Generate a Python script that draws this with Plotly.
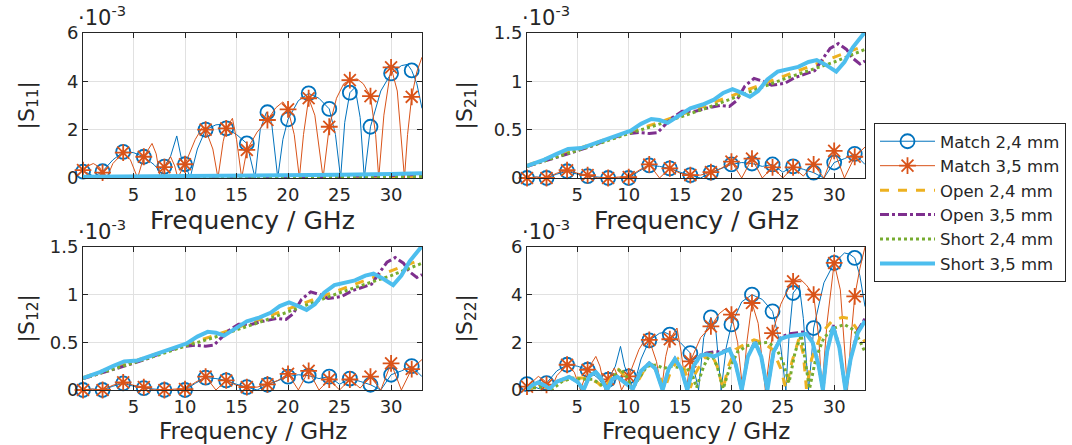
import plotly.graph_objects as go

W, H = 1072, 445
FONT = "DejaVu Sans"
TXT = "#262626"
C_BLUE, C_ORANGE, C_YELLOW = "#0072BD", "#D95319", "#EDB120"
C_PURPLE, C_GREEN, C_CYAN = "#7E2F8E", "#77AC30", "#4DBEEE"

series_names = ["Match 2,4 mm", "Match 3,5 mm", "Open 2,4 mm",
                "Open 3,5 mm", "Short 2,4 mm", "Short 3,5 mm"]
panel_labels = ["|S<sub>11</sub>|", "|S<sub>21</sub>|", "|S<sub>12</sub>|", "|S<sub>22</sub>|"]
x_ticks = [5, 10, 15, 20, 25, 30]
y_ticks_big = [0, 2, 4, 6]
y_ticks_small = [0, 0.5, 1, 1.5]

# marker positions of the "Match" curves (GHz)
marker_freq = [0.1, 2, 4, 6, 8, 10, 12, 14, 16, 18, 20, 22, 24, 26, 28, 30, 32]

# ---------------- S11 (values in 1e-3) ----------------
s11_m24_f = [0.1, 0.6, 1.2, 2.0, 3.0, 4.0, 5.0, 6.0, 7.0, 7.4, 8.0, 8.6, 9.2, 9.7, 10.0, 10.5, 11.2, 12.0,
             13.0, 13.6, 14.0, 15.0, 16.0, 16.8, 17.3, 17.9, 18.4, 19.0, 19.5, 20.0, 21.0, 22.0, 23.0, 24.0,
             24.6, 25.1, 25.5, 26.0, 26.5, 27.0, 27.4, 27.7, 28.0, 29.0, 30.0, 31.0, 31.6, 32.0, 32.5, 33.0]
s11_m24 = [0.26, 0.2, 0.05, 0.28, 0.75, 1.08, 1.05, 0.88, 0.55, 0.35, 0.47, 0.9, 1.74, 0.7, 0.57, 0.02, 1.2, 2.0,
           2.2, 2.22, 2.05, 1.8, 1.43, 0.0, 2.0, 2.72, 2.3, 0.0, 1.6, 2.43, 3.2, 3.5, 3.3, 2.86,
           1.8, 0.0, 2.3, 3.53, 3.75, 2.5, 0.0, 1.2, 2.12, 3.6, 4.33, 4.65, 4.7, 4.45, 3.9, 2.88]
s11_m35_f = [0.1, 0.6, 1.1, 1.7, 2.0, 2.4, 3.0, 4.0, 4.7, 5.4, 6.0, 6.8, 7.2, 7.6, 8.0, 8.6, 9.0, 9.3, 9.7, 10.0,
             11.0, 11.7, 12.0, 12.7, 13.2, 13.7, 14.0, 14.6, 15.0, 15.5, 16.0, 17.0, 18.0, 18.8, 19.5, 20.0,
             20.6, 21.1, 21.5, 22.0, 22.6, 23.4, 24.0, 24.7, 25.4, 26.0, 26.7, 27.3, 28.0, 28.5, 28.8, 29.3,
             30.0, 30.6, 31.3, 31.6, 32.0, 32.5, 33.0]
s11_m35 = [0.33, 0.5, 0.6, 0.45, 0.22, 0.0, 0.6, 1.05, 0.75, 0.0, 0.88, 1.43, 1.0, 0.0, 0.45, 0.88, 0.5, 0.0, 0.35, 0.57,
           1.6, 2.1, 2.0, 1.2, 0.0, 1.5, 2.05, 2.47, 1.6, 0.0, 1.16, 1.9, 2.4, 2.9, 3.15, 2.84,
           1.8, 0.0, 1.8, 3.3, 2.6, 0.0, 2.12, 3.3, 3.9, 4.05, 4.1, 3.9, 3.39, 1.8, 0.0, 2.6,
           4.58, 3.6, 0.0, 1.8, 3.36, 4.4, 5.0]
s11_m24_mk = [0.26, 0.28, 1.08, 0.88, 0.47, 0.57, 2.0, 2.05, 1.43, 2.72, 2.43, 3.5, 2.86, 3.53, 2.12, 4.33, 4.45]
s11_m35_mk = [0.33, 0.22, 1.05, 0.88, 0.45, 0.57, 2.0, 2.05, 1.16, 2.4, 2.84, 3.3, 2.12, 4.05, 3.39, 4.58, 3.36]
s11_low_f = [0.1, 5, 10, 15, 20, 25, 30, 33]
s11_o24 = [0.01, 0.01, 0.02, 0.02, 0.02, 0.02, 0.03, 0.04]
s11_o35 = [0.02, 0.02, 0.03, 0.04, 0.05, 0.07, 0.1, 0.15]
s11_s24 = [0.01, 0.01, 0.02, 0.02, 0.03, 0.03, 0.04, 0.05]
s11_s35 = [0.05, 0.06, 0.08, 0.09, 0.1, 0.13, 0.17, 0.2]

# ---------------- S21 / S12 (values in 1e-3) ----------------
s21_match_f = [0.1] + list(range(1, 34))
s21_m24 = [0, 0.01, 0, 0.04, 0.07, 0.04, 0.02, 0.01, 0, 0.0, 0, 0.07, 0.13, 0.12, 0.1, 0.06, 0.03, 0.0,
           0.055, 0.1, 0.14, 0.16, 0.15, 0.12, 0.14, 0.06, 0.12, 0.09, 0.055, 0.0, 0.16, 0.2, 0.25, 0.14]
s21_m35 = [0, 0.01, 0, 0.05, 0.08, 0.05, 0.03, 0.0, 0, 0.01, 0.01, 0.08, 0.14, 0.0, 0.1, 0.05, 0.03, 0.03,
           0.06, 0.1, 0.17, 0.0, 0.2, 0.0, 0.11, 0.0, 0.11, 0.02, 0.14, 0.0, 0.28, 0.0, 0.22, 0.32]
s21_m24_mk = [0, 0, 0.07, 0.02, 0, 0, 0.13, 0.1, 0.03, 0.055, 0.14, 0.15, 0.14, 0.12, 0.055, 0.16, 0.25]
s21_m35_mk = [0, 0, 0.08, 0.03, 0, 0.01, 0.14, 0.1, 0.03, 0.06, 0.17, 0.2, 0.11, 0.11, 0.14, 0.28, 0.22]
s21_lin_f = [0.1, 2.5, 5, 7.5, 10, 12.5, 15, 17.5, 20, 22.5, 25, 27.5, 30, 33]
s21_o24 = [0.13, 0.22, 0.3, 0.39, 0.47, 0.56, 0.65, 0.75, 0.85, 0.95, 1.05, 1.15, 1.25, 1.37]
s21_s24 = [0.12, 0.2, 0.28, 0.37, 0.46, 0.54, 0.63, 0.72, 0.82, 0.92, 1.02, 1.11, 1.2, 1.33]
s21_o35_f = [0.1, 2.0, 4.1, 6.4, 8.0, 9.7, 11.0, 12.0, 12.8, 14.2, 15.2, 16.5, 17.5, 18.9, 19.8, 20.5, 21.3,
             22.2, 23.1, 23.9, 25.2, 26.2, 27.2, 28.1, 29.0, 29.6, 30.4, 31.2, 31.8, 32.5, 33.0]
s21_o35 = [0.12, 0.18, 0.25, 0.33, 0.4, 0.455, 0.47, 0.46, 0.47, 0.62, 0.69, 0.69, 0.72, 0.75, 0.74, 0.8, 0.95,
           1.03, 1.0, 0.96, 0.98, 1.04, 1.08, 1.11, 1.25, 1.34, 1.39, 1.33, 1.24, 1.18, 1.21]
s21_s35_f = [0.1, 1.8, 3.0, 4.1, 5.4, 6.5, 8.0, 10.2, 11.2, 12.2, 13.0, 13.8, 15.1, 16.0, 17.2, 18.3, 19.2,
             20.1, 21.0, 21.8, 22.6, 23.5, 24.5, 25.5, 26.5, 27.5, 28.3, 29.2, 30.2, 31.0, 31.8, 33.0]
s21_s35 = [0.125, 0.19, 0.25, 0.3, 0.31, 0.35, 0.4, 0.49, 0.56, 0.61, 0.6, 0.57, 0.66, 0.72, 0.76, 0.81, 0.88,
           0.92, 0.88, 0.84, 0.9, 1.02, 1.1, 1.13, 1.15, 1.2, 1.22, 1.17, 1.1, 1.2, 1.35, 1.51]

# ---------------- S22 (values in 1e-3) ----------------
s22_m24_f = [0.1, 0.8, 1.3, 2.0, 3.0, 4.0, 5.0, 6.0, 7.0, 7.5, 8.0, 8.7, 9.2, 9.6, 10.0, 10.4, 11.2, 12.0, 13.0,
             13.5, 14.0, 15.0, 16.0, 16.8, 17.3, 18.0, 18.5, 19.0, 19.5, 20.0, 21.0, 22.0, 23.0, 24.0, 24.8,
             25.3, 25.6, 26.0, 26.6, 27.0, 27.5, 27.8, 28.0, 29.0, 30.0, 31.0, 31.5, 32.0, 32.5, 33.0]
s22_m24 = [0.25, 0.15, 0.05, 0.29, 0.8, 1.06, 1.0, 0.85, 0.5, 0.25, 0.43, 1.0, 1.83, 1.0, 0.57, 0.02, 1.3, 2.08, 2.38,
           2.42, 2.32, 2.0, 1.55, 0.0, 2.2, 3.05, 2.4, 0.0, 1.8, 2.75, 3.7, 4.0, 3.8, 3.3, 1.8,
           0.0, 2.2, 4.07, 4.4, 3.0, 0.0, 1.4, 2.6, 4.5, 5.33, 5.75, 5.7, 5.54, 4.8, 3.5]
s22_m35_f = [0.1, 0.6, 1.2, 1.8, 2.0, 2.4, 3.0, 4.0, 4.7, 5.3, 6.0, 6.8, 7.2, 7.7, 8.0, 8.6, 9.0, 9.3, 9.7, 10.0,
             11.0, 11.7, 12.0, 12.7, 13.2, 13.6, 14.0, 14.7, 15.1, 15.6, 16.0, 17.0, 18.0, 18.8, 19.5, 20.0,
             20.6, 21.1, 21.5, 22.0, 22.6, 23.3, 24.0, 24.8, 25.6, 26.0, 26.7, 27.3, 28.0, 28.5, 28.8, 29.3,
             30.0, 30.6, 31.3, 31.6, 32.0, 32.5, 33.0]
s22_m35 = [0.14, 0.35, 0.57, 0.4, 0.22, 0.0, 0.6, 1.06, 0.75, 0.0, 0.85, 1.41, 1.0, 0.0, 0.45, 0.92, 0.5, 0.0, 0.35, 0.57,
           1.7, 2.2, 2.1, 1.2, 0.0, 1.4, 2.13, 2.6, 1.6, 0.0, 1.2, 2.2, 2.67, 3.2, 3.44, 3.16,
           2.0, 0.0, 2.0, 3.65, 2.8, 0.0, 2.39, 3.6, 4.3, 4.56, 4.65, 4.4, 4.0, 2.2, 0.0, 2.8,
           5.33, 4.2, 0.0, 2.0, 3.93, 5.1, 6.0]
s22_m24_mk = [0.25, 0.29, 1.06, 0.85, 0.43, 0.57, 2.08, 2.32, 1.55, 3.05, 2.75, 4.0, 3.3, 4.07, 2.6, 5.33, 5.54]
s22_m35_mk = [0.14, 0.22, 1.06, 0.85, 0.45, 0.57, 2.1, 2.13, 1.2, 2.67, 3.16, 3.65, 2.39, 4.56, 4.0, 5.33, 3.93]
s22_o24_f = [0.1, 1.0, 2.0, 2.6, 3.5, 4.5, 5.5, 6.3, 7.0, 7.6, 8.3, 9.0, 9.6, 10.3, 10.8, 11.6, 12.3, 13.0, 13.5,
             14.1, 14.8, 15.4, 16.0, 16.5, 17.3, 18.0, 18.6, 19.2, 19.7, 20.4, 21.2, 22.2, 23.0, 24.0, 24.8,
             25.3, 25.9, 26.6, 27.0, 27.3, 27.8, 28.8, 29.8, 30.8, 31.5, 32.3, 33.0]
s22_o24 = [0.0, 0.15, 0.1, 0.05, 0.4, 0.5, 0.5, 0.45, 0.3, 0.05, 0.5, 0.85, 0.6, 0.05, 0.3, 0.9, 1.05, 0.6, 0.05,
           0.8, 1.3, 0.9, 0.1, 0.7, 1.3, 1.6, 1.0, 0.05, 1.0, 1.7, 1.9, 2.1, 2.0, 1.7, 0.9,
           0.05, 1.2, 2.2, 1.5, 0.05, 1.3, 2.4, 2.9, 3.05, 3.0, 2.5, 2.0]
s22_s24_f = [0.1, 1.0, 2.0, 2.6, 3.5, 4.5, 5.5, 6.5, 7.5, 8.0, 8.6, 9.2, 9.8, 10.4, 11.0, 11.8, 12.7, 13.4, 14.0,
             14.8, 15.5, 16.0, 16.6, 17.3, 18.0, 18.6, 19.2, 19.8, 20.6, 21.5, 22.5, 23.5, 24.3, 25.0, 25.6,
             26.2, 26.8, 27.2, 27.6, 28.2, 29.0, 30.0, 31.0, 32.0, 33.0]
s22_s24 = [0.05, 0.1, 0.15, 0.05, 0.35, 0.5, 0.45, 0.45, 0.2, 0.05, 0.6, 0.9, 0.55, 0.05, 0.5, 1.0, 1.05, 0.9, 1.0,
           0.95, 0.8, 0.9, 0.1, 1.0, 1.55, 1.0, 0.05, 0.9, 1.6, 1.85, 1.95, 2.0, 1.8, 1.2, 0.3,
           1.6, 2.3, 1.2, 0.05, 1.3, 2.2, 2.6, 2.75, 2.5, 1.6]
s22_s35_f = [0.1, 0.6, 1.2, 1.8, 2.3, 3.0, 4.2, 5.0, 5.6, 6.2, 6.8, 7.3, 7.9, 8.4, 8.9, 9.5, 10.4, 11.2, 12.0,
             12.6, 13.3, 13.9, 14.5, 15.1, 15.7, 16.3, 17.0, 17.6, 18.3, 19.0, 19.8, 20.4, 21.0, 21.6, 22.3,
             22.9, 23.5, 24.1, 24.8, 25.5, 26.5, 27.3, 27.9, 28.5, 28.9, 29.3, 29.9, 30.5, 31.1, 31.6, 32.3, 33.0]
s22_s35 = [0.0, 0.2, 0.32, 0.2, 0.05, 0.35, 0.55, 0.35, 0.0, 0.6, 0.75, 0.5, 0.0, 0.45, 0.55, 0.35, 0.05, 0.8, 1.12,
           0.9, 0.0, 0.9, 1.3, 0.9, 0.0, 1.0, 1.45, 1.5, 1.4, 1.55, 1.7, 1.1, 0.0, 1.4, 2.0,
           1.4, 0.0, 1.6, 2.15, 2.25, 2.3, 2.35, 2.0, 1.0, 0.0, 1.6, 2.65, 1.8, 0.0, 1.3, 2.4, 2.9]
s22_o35 = [0.0, 0.2, 0.33, 0.2, 0.05, 0.35, 0.55, 0.35, 0.0, 0.6, 0.76, 0.5, 0.0, 0.45, 0.56, 0.35, 0.05, 0.8, 1.13,
           0.9, 0.0, 0.9, 1.32, 0.9, 0.0, 1.0, 1.47, 1.55, 1.6, 1.6, 1.72, 1.1, 0.0, 1.4, 2.05,
           1.4, 0.0, 1.6, 2.2, 2.35, 2.42, 2.45, 2.0, 1.0, 0.0, 1.6, 2.72, 1.8, 0.0, 1.3, 2.5, 3.0]

fig = go.Figure()

def add_panel(n, m24_f, m24, m35_f, m35, m24_mk, m35_mk, o24_f, o24, o35_f, o35, s24_f, s24, s35_f, s35):
    xa, ya = ("x", "y") if n == 1 else (f"x{n}", f"y{n}")
    common = dict(xaxis=xa, yaxis=ya, showlegend=False, hoverinfo="skip")
    fig.add_trace(go.Scatter(x=m24_f, y=m24, mode="lines", line=dict(color=C_BLUE, width=1), **common))
    fig.add_trace(go.Scatter(x=marker_freq, y=m24_mk, mode="markers", cliponaxis=False,
                             marker=dict(symbol="circle-open", size=14, color=C_BLUE, line=dict(width=1.8)), **common))
    fig.add_trace(go.Scatter(x=m35_f, y=m35, mode="lines", line=dict(color=C_ORANGE, width=1), **common))
    fig.add_trace(go.Scatter(x=marker_freq, y=m35_mk, mode="markers", cliponaxis=False,
                             marker=dict(symbol="asterisk-open", size=14, color=C_ORANGE, line=dict(width=1.8, color=C_ORANGE)), **common))
    fig.add_trace(go.Scatter(x=o24_f, y=o24, mode="lines", line=dict(color=C_YELLOW, width=3, dash="dash"), **common))
    fig.add_trace(go.Scatter(x=o35_f, y=o35, mode="lines", line=dict(color=C_PURPLE, width=3, dash="dashdot"), **common))
    fig.add_trace(go.Scatter(x=s24_f, y=s24, mode="lines", line=dict(color=C_GREEN, width=3, dash="dot"), **common))
    fig.add_trace(go.Scatter(x=s35_f, y=s35, mode="lines", line=dict(color=C_CYAN, width=4), **common))

add_panel(1, s11_m24_f, s11_m24, s11_m35_f, s11_m35, s11_m24_mk, s11_m35_mk,
          s11_low_f, s11_o24, s11_low_f, s11_o35, s11_low_f, s11_s24, s11_low_f, s11_s35)
for n in (2, 3):
    add_panel(n, s21_match_f, s21_m24, s21_match_f, s21_m35, s21_m24_mk, s21_m35_mk,
              s21_lin_f, s21_o24, s21_o35_f, s21_o35, s21_lin_f, s21_s24, s21_s35_f, s21_s35)
add_panel(4, s22_m24_f, s22_m24, s22_m35_f, s22_m35, s22_m24_mk, s22_m35_mk,
          s22_o24_f, s22_o24, s22_s35_f, s22_o35, s22_s24_f, s22_s24, s22_s35_f, s22_s35)

# legend entries
legend_styles = [
    dict(mode="lines+markers", line=dict(color=C_BLUE, width=1),
         marker=dict(symbol="circle-open", size=14, color=C_BLUE, line=dict(width=1.8))),
    dict(mode="lines+markers", line=dict(color=C_ORANGE, width=1),
         marker=dict(symbol="asterisk-open", size=14, color=C_ORANGE, line=dict(width=1.8, color=C_ORANGE))),
    dict(mode="lines", line=dict(color=C_YELLOW, width=3, dash="dash")),
    dict(mode="lines", line=dict(color=C_PURPLE, width=3, dash="dashdot")),
    dict(mode="lines", line=dict(color=C_GREEN, width=3, dash="dot")),
    dict(mode="lines", line=dict(color=C_CYAN, width=4)),
]
for name, st in zip(series_names, legend_styles):
    fig.add_trace(go.Scatter(x=[None], y=[None], name=name, showlegend=True, **st))

xdom = [[83 / W, 422 / W], [527 / W, 865 / W]]
ydom = [[1 - 178 / H, 1 - 33 / H], [1 - 390 / H, 1 - 247 / H]]
tickfont = dict(family=FONT, size=18, color=TXT)

def xa(dom, anchor):
    return dict(domain=dom, anchor=anchor, range=[0.1, 33], tickvals=x_ticks, showline=True, linecolor=TXT,
                linewidth=1, mirror="ticks", ticks="inside", ticklen=5, tickcolor=TXT, showgrid=True,
                gridcolor="#e1e1e1", zeroline=False, tickfont=tickfont, ticklabelstandoff=0, automargin=False)

def ya(dom, anchor, rng, tv):
    return dict(domain=dom, anchor=anchor, range=rng, tickvals=tv, showline=True, linecolor=TXT,
                linewidth=1, mirror="ticks", ticks="inside", ticklen=5, tickcolor=TXT, showgrid=True,
                gridcolor="#e1e1e1", zeroline=False, tickfont=tickfont, automargin=False)

layout = dict(
    template="none",
    width=W, height=H, autosize=False, margin=dict(l=0, r=0, t=0, b=0, pad=0),
    paper_bgcolor="white", plot_bgcolor="white",
    font=dict(family=FONT, color=TXT),
    xaxis=xa(xdom[0], "y"), yaxis=ya(ydom[0], "x", [0, 6], y_ticks_big),
    xaxis2=xa(xdom[1], "y2"), yaxis2=ya(ydom[0], "x2", [0, 1.5], y_ticks_small),
    xaxis3=xa(xdom[0], "y3"), yaxis3=ya(ydom[1], "x3", [0, 1.5], y_ticks_small),
    xaxis4=xa(xdom[1], "y4"), yaxis4=ya(ydom[1], "x4", [0, 6], y_ticks_big),
    legend=dict(x=874 / W, y=1 - 123 / H, xanchor="left", yanchor="top", bgcolor="white",
                bordercolor=TXT, borderwidth=1, font=dict(family=FONT, size=16.5, color=TXT),
                itemwidth=55, tracegroupgap=0),
)
fig.update_layout(**layout)

annotations = []
px_panels = [(83, 422, 33, 178), (527, 865, 33, 178), (83, 422, 247, 390), (527, 865, 247, 390)]
xlab_gap = [42, 42, 40.5, 40.5]
xlab_size = [25, 25, 23, 23]
ylab_x = [28, 466, 28, 466]
for i, (x0, x1, y0, y1) in enumerate(px_panels):
    annotations.append(dict(text="·10<sup>-3</sup>", xref="paper", yref="paper", x=(x0 - 7) / W,
                            y=1 - (y0 - 1) / H, xanchor="left", yanchor="bottom", showarrow=False,
                            font=dict(family=FONT, size=21, color=TXT)))
    annotations.append(dict(text="Frequency / GHz", xref="paper", yref="paper", x=(x0 + x1) / 2 / W,
                            y=1 - (y1 + xlab_gap[i]) / H, xanchor="center", yanchor="middle", showarrow=False,
                            font=dict(family=FONT, size=xlab_size[i], color=TXT)))
    annotations.append(dict(text=panel_labels[i], xref="paper", yref="paper", x=ylab_x[i] / W,
                            y=1 - (y0 + y1) / 2 / H, xanchor="center", yanchor="middle", showarrow=False,
                            textangle=-90, font=dict(family=FONT, size=22, color=TXT)))
fig.update_layout(annotations=annotations)

fig.write_html("out.html", config={"responsive": False, "displayModeBar": False},
               post_script="document.body.style.margin='0px';document.body.style.overflow='hidden';")
